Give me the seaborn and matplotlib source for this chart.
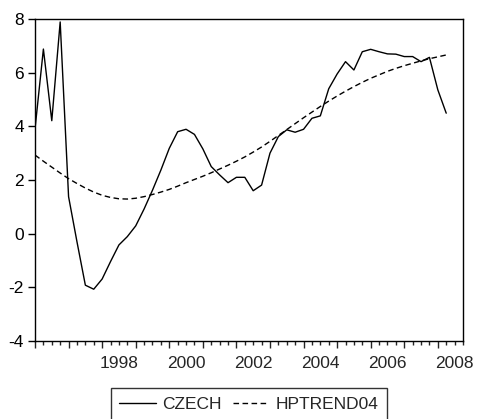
import numpy as np
import pandas as pd
import matplotlib
matplotlib.use("Agg")
import matplotlib.pyplot as plt
import seaborn as sns

# Quarterly data, 1996Q1 .. 2008Q2
start_year = 1996
czech = [3.9, 6.88, 4.21, 7.89, 1.38, -0.3, -1.92, -2.07, -1.69, -1.04,
         -0.42, -0.11, 0.29, 0.92, 1.62, 2.37, 3.18, 3.80, 3.89, 3.70,
         3.16, 2.50, 2.19, 1.90, 2.10, 2.10, 1.60, 1.81, 3.00, 3.62,
         3.87, 3.78, 3.89, 4.30, 4.39, 5.40, 5.95, 6.41, 6.10, 6.78,
         6.87, 6.78, 6.70, 6.69, 6.60, 6.60, 6.41, 6.57, 5.36, 4.49]
hptrend04 = [2.93, 2.70, 2.48, 2.26, 2.05, 1.87, 1.70, 1.55, 1.43, 1.35,
             1.30, 1.29, 1.32, 1.38, 1.46, 1.55, 1.65, 1.77, 1.90, 2.02,
             2.14, 2.27, 2.41, 2.55, 2.70, 2.86, 3.04, 3.23, 3.44, 3.66,
             3.88, 4.10, 4.32, 4.53, 4.74, 4.94, 5.13, 5.31, 5.48, 5.64,
             5.79, 5.92, 6.05, 6.16, 6.26, 6.35, 6.44, 6.52, 6.59, 6.66]
year_labels = ["1998", "2000", "2002", "2004", "2006", "2008"]
y_ticks = [-4, -2, 0, 2, 4, 6, 8]

t = start_year + np.arange(len(czech)) / 4.0
df = pd.DataFrame({"t": t, "CZECH": czech, "HPTREND04": hptrend04})

sns.set_style("ticks")
plt.rcParams["font.family"] = ["Liberation Sans", "DejaVu Sans"]
plt.rcParams["font.size"] = 12.5

fig = plt.figure(figsize=(4.79, 4.19), dpi=100)
ax = fig.add_axes([35 / 479, 1 - 341 / 419, (463 - 35) / 479, (341 - 19) / 419])

sns.lineplot(data=df, x="t", y="CZECH", ax=ax, color="black", linewidth=1.0,
             label="CZECH")
sns.lineplot(data=df, x="t", y="HPTREND04", ax=ax, color="black", linewidth=1.0,
             label="HPTREND04", linestyle=(0, (4, 2.5)))

ax.set_xlim(1996, 1996 + 51 / 4)
ax.set_ylim(-4, 8)
ax.set_xlabel("")
ax.set_ylabel("")

ax.set_yticks(y_ticks)
ax.set_yticklabels([str(v) for v in y_ticks])
ax.tick_params(axis="y", direction="out", length=5, width=1, pad=3,
               labelsize=12.5, colors="black")

years = np.arange(1996, 2009)
ax.set_xticks(years)
ax.set_xticklabels([""] * len(years))
ax.set_xticks(np.arange(1996, 1996 + 51 / 4 + 0.01, 0.25), minor=True)
ax.tick_params(axis="x", which="major", direction="out", length=5, width=1)
ax.tick_params(axis="x", which="minor", direction="out", length=3, width=1)

sec = ax.secondary_xaxis("bottom")
sec.set_xticks([int(y) + 0.5 for y in year_labels])
sec.set_xticklabels(year_labels)
sec.tick_params(length=0, pad=11, labelsize=12.5)
sec.spines["bottom"].set_visible(False)

for s in ax.spines.values():
    s.set_color("black")
    s.set_linewidth(1.0)

leg = ax.legend(loc="upper center", bbox_to_anchor=(0.5, -0.146), ncol=2,
                frameon=True, fancybox=False, fontsize=12.5, handlelength=2.1,
                columnspacing=0.6, handletextpad=0.4, borderpad=0.5,
                borderaxespad=0)
leg.get_frame().set_edgecolor("black")
leg.get_frame().set_linewidth(1.0)

fig.savefig("out.png", dpi=100)
